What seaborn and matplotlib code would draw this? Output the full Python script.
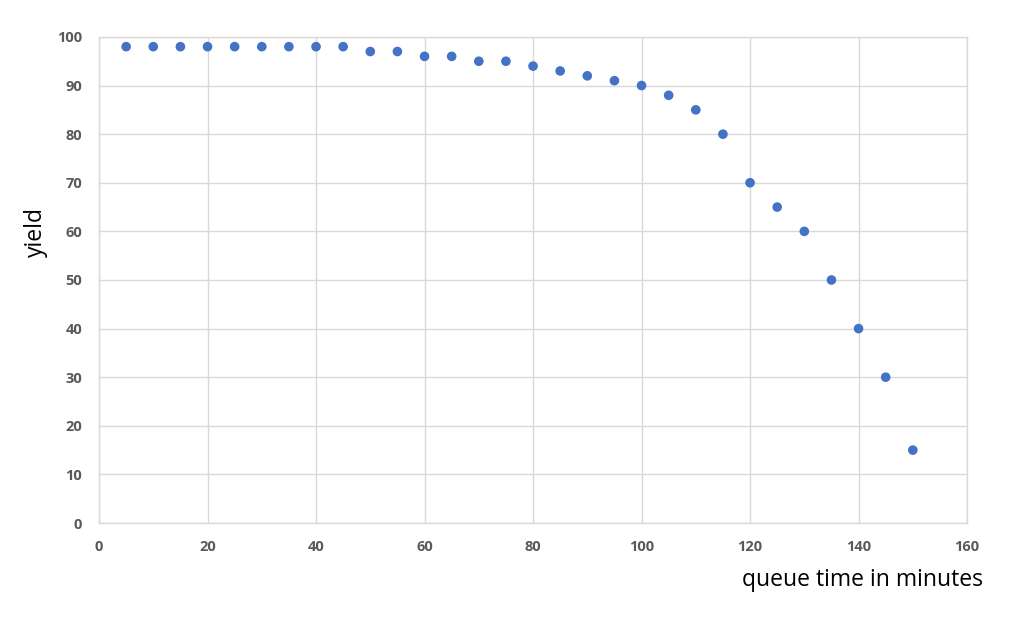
import numpy as np
import pandas as pd
import matplotlib
matplotlib.use('Agg')
import matplotlib.pyplot as plt
import seaborn as sns

queue_time = [5, 10, 15, 20, 25, 30, 35, 40, 45, 50, 55, 60, 65, 70, 75,
              80, 85, 90, 95, 100, 105, 110, 115, 120, 125, 130, 135, 140, 145, 150]
yield_pct = [98, 98, 98, 98, 98, 98, 98, 98, 98, 97, 97, 96, 96, 95, 95,
             94, 93, 92, 91, 90, 88, 85, 80, 70, 65, 60, 50, 40, 30, 15]

df = pd.DataFrame({'queue_time': queue_time, 'yield': yield_pct})

sns.set_style('white')
plt.rcParams['font.family'] = ['Open Sans', 'DejaVu Sans']

fig = plt.figure(figsize=(10.24, 6.26), dpi=100)
ax = fig.add_axes([0.0967, 0.1645, 0.8477, 0.7765])

sns.scatterplot(data=df, x='queue_time', y='yield', ax=ax,
                color='#4472C4', s=48, edgecolor='none', zorder=3)

ax.set_xlim(0, 160)
ax.set_ylim(0, 100)
ax.set_xticks(range(0, 161, 20))
ax.set_yticks(range(0, 101, 10))
ax.grid(True, color='#D9D9D9', linewidth=1)
ax.set_axisbelow(True)
for side in ['left', 'bottom', 'right', 'top']:
    ax.spines[side].set_color('#D9D9D9')
    ax.spines[side].set_linewidth(1)
ax.tick_params(length=0, pad=12, labelsize=10.5, labelcolor='#595959')
for lbl in ax.get_xticklabels() + ax.get_yticklabels():
    lbl.set_fontweight('bold')

ax.set_xlabel('')
ax.set_ylabel('')
fig.text(0.035, 0.63, 'yield', rotation=90, fontsize=16.5, color='black',
         ha='center', va='center')
fig.text(0.96, 0.073, 'queue time in minutes', fontsize=16.5, color='black',
         ha='right', va='center')

fig.savefig('out.png', dpi=100)
